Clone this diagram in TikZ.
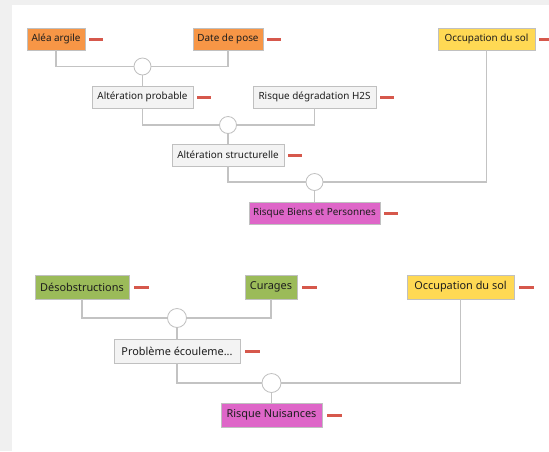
\documentclass[tikz,border=0pt]{standalone}
\usepackage{fontspec}
\setmainfont{Noto Sans}
\definecolor{pagegray}{RGB}{240,240,240}
\definecolor{boxgray}{RGB}{243,243,243}
\definecolor{edgegray}{RGB}{192,192,192}
\definecolor{wiregray}{RGB}{195,195,195}
\definecolor{orangefill}{RGB}{247,150,70}
\definecolor{greenfill}{RGB}{155,187,89}
\definecolor{yellowfill}{RGB}{255,217,84}
\definecolor{pinkfill}{RGB}{222,102,200}
\definecolor{minusred}{RGB}{214,88,76}
\definecolor{inkdark}{RGB}{30,30,30}
\tikzset{
  box/.style={draw=edgegray, line width=0.8pt, inner sep=0pt, text=inkdark,
              minimum height=22pt, font=\fontsize{9.9}{11}\selectfont},
  bigbox/.style={box, minimum height=24pt, font=\fontsize{10.9}{12}\selectfont},
  plain/.style={fill=boxgray},
  orange/.style={fill=orangefill},
  green/.style={fill=greenfill},
  yellow/.style={fill=yellowfill},
  pink/.style={fill=pinkfill},
  gate/.style={circle, draw=edgegray, fill=white, line width=0.8pt, inner sep=0pt},
  wire/.style={draw=wiregray, line width=1.1pt},
  minusmark/.style={draw=minusred, line width=3pt},
}
\begin{document}
\begin{tikzpicture}[x=1pt, y=-1pt]
  % page and panel
  \fill[pagegray] (0,0) rectangle (549,451);
  \fill[white] (12,5) rectangle (549,451);
  \useasboundingbox (0,0) rectangle (549,451);

  % upper tree
  \node[box, orange, minimum width=58pt]  (alea)      at (56,39)    {Aléa argile};
  \node[box, orange, minimum width=70pt]  (date)      at (228,39)   {Date de pose};
  \node[box, yellow, minimum width=97pt]  (occA)      at (486.5,39) {Occupation du sol};
  \node[gate, minimum size=17pt]          (g1)        at (142.5,66.5) {};
  \node[box, plain, minimum width=101pt]  (altprob)   at (142.5,97) {Altération probable};
  \node[box, plain, minimum width=123pt]  (h2s)       at (314.5,97) {Risque dégradation H2S};
  \node[gate, minimum size=17pt]          (g2)        at (228,125)  {};
  \node[box, plain, minimum width=112pt]  (altstruct) at (228,155)  {Altération structurelle};
  \node[gate, minimum size=17pt]          (g3)        at (314.5,182) {};
  \node[box, pink, minimum width=131pt]   (rbp)       at (314.5,213) {Risque Biens et Personnes};

  \draw[wire] (alea.south) |- (g1.west);
  \draw[wire] (date.south) |- (g1.east);
  \draw[wire] (g1.south) -- (altprob.north);
  \draw[wire] (altprob.south) |- (g2.west);
  \draw[wire] (h2s.south) |- (g2.east);
  \draw[wire] (g2.south) -- (altstruct.north);
  \draw[wire] (altstruct.south) |- (g3.west);
  \draw[wire] (occA.south) |- (g3.east);
  \draw[wire] (g3.south) -- (rbp.north);

  % lower tree
  \node[bigbox, green, minimum width=94pt]   (desob)   at (82,287)    {Désobstructions};
  \node[bigbox, green, minimum width=52pt]   (curages) at (271,287)   {Curages};
  \node[bigbox, yellow, minimum width=107pt] (occB)    at (460.5,287) {Occupation du sol};
  \node[gate, minimum size=19pt]             (g4)      at (177,318)   {};
  \node[bigbox, plain, minimum width=126pt]  (prob)    at (177,351)   {Problème écouleme...};
  \node[gate, minimum size=19pt]             (g5)      at (271.5,383) {};
  \node[bigbox, pink, minimum width=101pt]   (rn)      at (271.5,415) {Risque Nuisances};

  \draw[wire] (desob.south) |- (g4.west);
  \draw[wire] (curages.south) |- (g4.east);
  \draw[wire] (g4.south) -- (prob.north);
  \draw[wire] (prob.south) |- (g5.west);
  \draw[wire] (occB.south) |- (g5.east);
  \draw[wire] (g5.south) -- (rn.north);

  % collapse markers beside each box
  \foreach \n in {alea,date,altprob,h2s,altstruct,rbp}
    \draw[minusmark] ([xshift=4pt]\n.east) -- ++(14,0);
  \draw[minusmark] ([xshift=4pt]occA.east) -- (549,39);
  \foreach \n in {desob,curages,occB,prob,rn}
    \draw[minusmark] ([xshift=5pt]\n.east) -- ++(15,0);
\end{tikzpicture}
\end{document}
